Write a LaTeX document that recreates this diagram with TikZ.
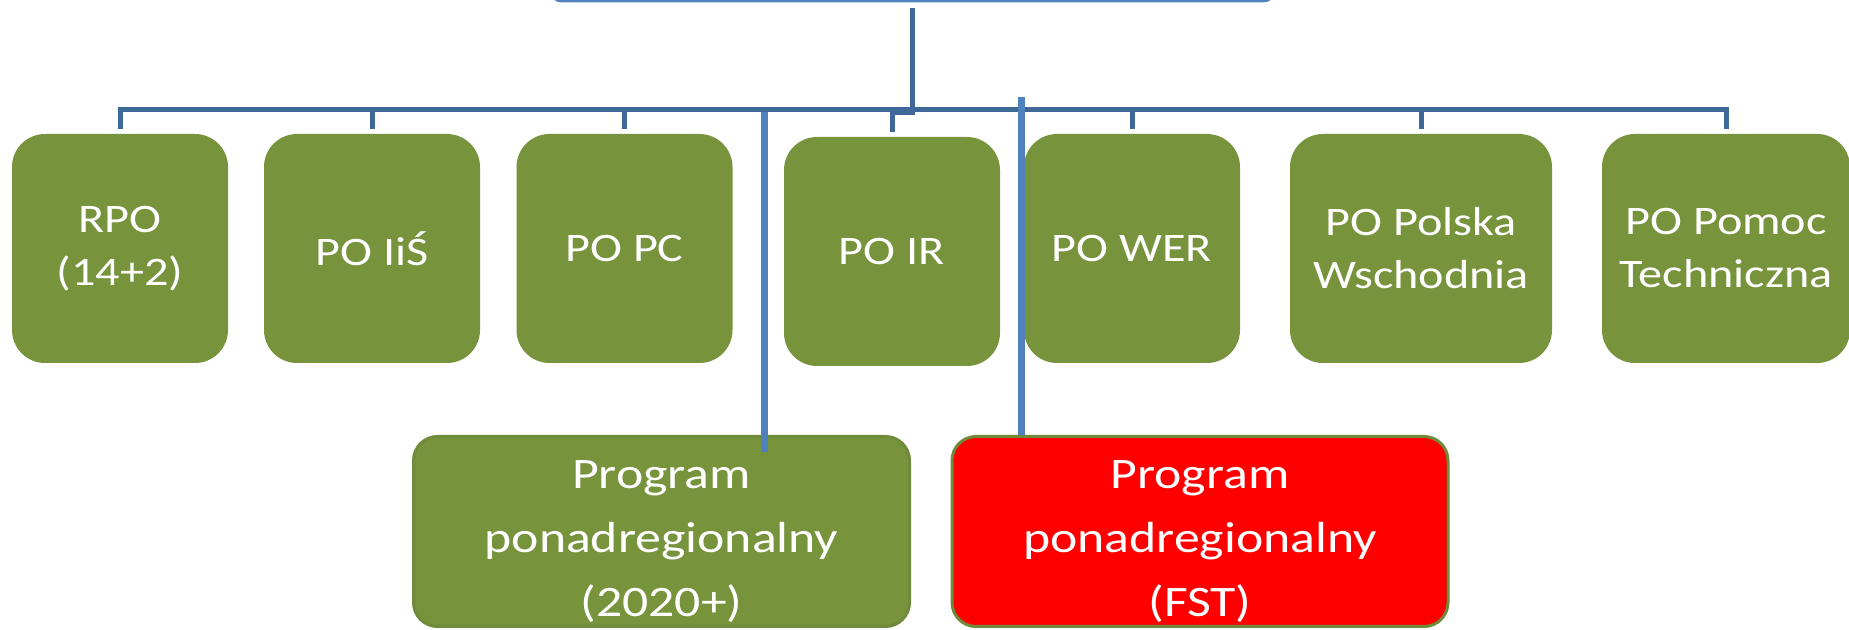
\documentclass[tikz,border=0pt]{standalone}
\usepackage{fontspec}
\setmainfont{Carlito}[FakeStretch=1.19]
\usetikzlibrary{positioning}
\definecolor{progGreen}{HTML}{77933C}
\definecolor{progEdge}{HTML}{6E8A3A}
\definecolor{lineDark}{HTML}{3E6898}
\definecolor{lineLight}{HTML}{4F81BD}
\tikzset{
  prog/.style={rectangle, rounded corners=16.5pt, fill=progGreen, text=white,
    align=center, inner sep=0pt, minimum width=108pt, minimum height=114.5pt,
    font=\fontsize{20.25}{26.5}\selectfont},
  wideprog/.style={prog, rounded corners=12pt, draw=progEdge, line width=1.5pt,
    minimum width=248pt, minimum height=95pt,
    font=\fontsize{21.75}{32}\selectfont},
  orgline/.style={lineDark, line width=2.5pt},
  extraline/.style={lineLight, line width=3.5pt},
}
\begin{document}
\begin{tikzpicture}[x=0.5pt,y=-0.5pt]
\useasboundingbox (0,0) rectangle (1849,630);
\clip (0,0) rectangle (1849,630);

% top box, only its lower edge is in view
\node[draw=lineLight, line width=1.5pt, rounded corners=6pt, fill=white,
  minimum width=362.5pt, minimum height=60pt] (root) at (912.5,-59) {};
\coordinate (stem) at ([yshift=-3pt]root.south);

% programmes
\node[prog] (rpo) at (120,248.5) {RPO\\(14+2)};
\node[prog] (iis) at (372,248.5) {PO IiŚ};
\node[prog] (pc)  at (624.5,248.5) {PO PC};
\node[prog] (ir)  at (892,251.5) {PO IR};
\node[prog] (wer) at (1132,248.5) {PO WER};
\node[prog, minimum width=131pt] (pw) at (1421,248.5) {PO Polska\\Wschodnia};
\node[prog, minimum width=124pt] (pt) at (1726,248.5) {PO Pomoc\\Techniczna};

\foreach \pname in {rpo,iis,pc,ir,wer,pw,pt}
  \draw[orgline] (stem) |- ([yshift=12pt]\pname.north) -- ([yshift=2.5pt]\pname.north);

\node[wideprog] (p2020) at (661.5,531.5) {\rule{0pt}{24pt}Program\\ponadregionalny\\(2020+)};
\node[wideprog, fill=red] (fst) at (1200,531.5) {\rule{0pt}{24pt}Program\\ponadregionalny\\(FST)};

\coordinate (a1) at (764,112);
\coordinate (a2) at (1021,97);
\draw[extraline] (a1) -- (a1 |- p2020.north) -- ++(0,17);
\draw[extraline] (a2) -- (a2 |- fst.north);

\end{tikzpicture}
\end{document}
